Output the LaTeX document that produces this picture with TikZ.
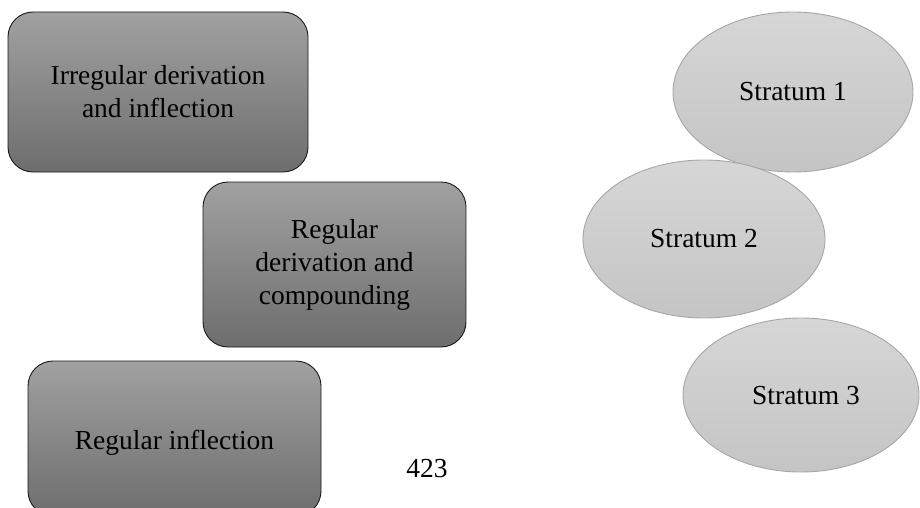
\documentclass[tikz,border=0pt]{standalone}
\usepackage{fontspec}
\setmainfont{Liberation Serif}
\usetikzlibrary{shapes.geometric}

\begin{document}
\begin{tikzpicture}[x=1pt, y=-1pt,
    level/.style={draw=black!90, line width=0.9pt, rounded corners=25pt, top color=black!37, bottom color=black!57, align=center, inner sep=0pt},
    stratum/.style={ellipse, draw=black!35, line width=0.9pt, top color=black!16, bottom color=black!23, inner sep=0pt}]
    \useasboundingbox (0,0) rectangle (920,508);
    \fontsize{27.5}{33}\selectfont
    \node[level, minimum width=300pt, minimum height=160pt] (irr) at (158,92) {Irregular derivation\\and inflection};
    \node[level, minimum width=263pt, minimum height=165pt] (regd) at (334.5,264.5) {Regular\\derivation and\\compounding};
    \node[level, minimum width=293pt, minimum height=155pt] (regi) at (174.5,438.5) {};
    \node (regitext) at (174.5,443) {Regular inflection};
    \node[stratum, minimum width=240pt, minimum height=160pt] (s1) at (793,92) {Stratum 1};
    \node[stratum, minimum width=242pt, minimum height=158pt] (s2) at (704,239) {Stratum 2};
    \node[stratum, minimum width=236pt, minimum height=154pt] (s3) at (801,395) {};
    \node (s3text) at (806,396) {Stratum 3};
    \node (page) at (427,469) {423};
\end{tikzpicture}
\end{document}
